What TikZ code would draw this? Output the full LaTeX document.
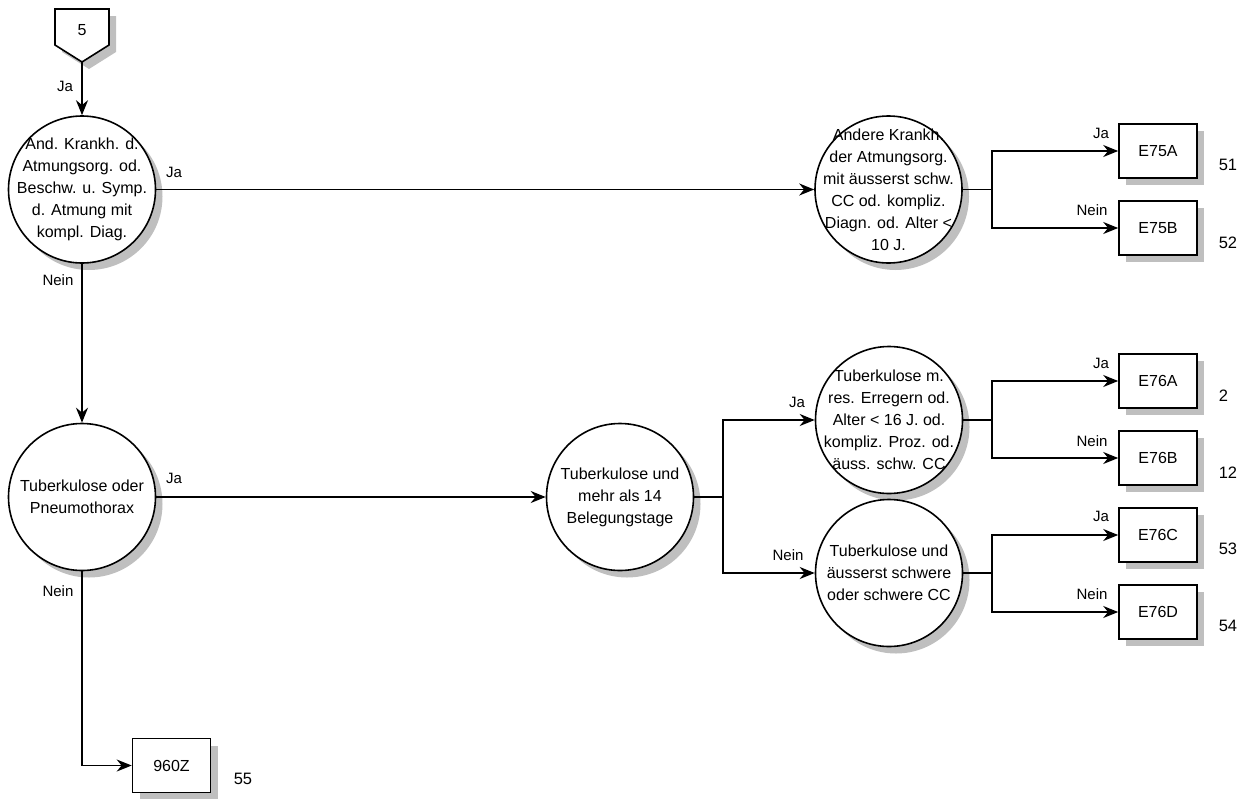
\documentclass[tikz,border=0pt]{standalone}
\usepackage{fontspec}
\setmainfont{Liberation Sans}
\usetikzlibrary{arrows.meta,shadows}
\begin{document}
\begin{tikzpicture}[x=1pt,y=-1pt,
  line width=1.6pt,
  shd/.style={drop shadow={shadow xshift=7pt,shadow yshift=-7pt,fill=black!25,opacity=1}},
  dec/.style={circle,draw,fill=white,minimum size=147pt,inner sep=0pt,shd},
  dtext/.style={align=center,font=\fontsize{16}{22}\selectfont,inner sep=0pt},
  leaf/.style={rectangle,draw,fill=white,minimum width=78pt,minimum height=54pt,inner sep=0pt,shd,font=\fontsize{16}{18}\selectfont},
  lbl/.style={font=\fontsize{15}{16}\selectfont,inner sep=0pt},
  num/.style={font=\fontsize{16.5}{18}\selectfont,inner sep=0pt,anchor=west},
  arr/.style={-{Stealth[length=15pt,width=12pt]}},
]
\useasboundingbox (0,0) rectangle (1252,798);

% off-page connector "5"
\fill[black!25] (62,16) -- (116,16) -- (116,52) -- (89,69) -- (62,52) -- cycle;
\draw[fill=white] (55,9) -- (109,9) -- (109,45) -- (82,62) -- (55,45) -- cycle;
\node[font=\fontsize{16}{18}\selectfont] (p5t) at (82,30) {5};
\coordinate (p5) at (82,62);

% decision circles
\node[dec] (c1) at (82,189.5) {};
\node[dtext] (c1t) at (c1) {And. Krankh. d.\\Atmungsorg. od.\\Beschw. u. Symp.\\d. Atmung mit\\kompl. Diag.};
\node[dec] (c2) at (888.5,189.5) {};
\node[dtext] (c2t) at (c2) {Andere Krankh.\\der Atmungsorg.\\mit äusserst schw.\\CC od. kompliz.\\Diagn. od. Alter <\\10 J.};
\node[dec] (c3) at (82,497) {};
\node[dtext] (c3t) at (c3) {Tuberkulose oder\\Pneumothorax};
\node[dec] (c4) at (620,497) {};
\node[dtext] (c4t) at (c4) {Tuberkulose und\\mehr als 14\\Belegungstage};
\node[dec] (c5) at (889,420) {};
\node[dtext] (c5t) at (c5) {Tuberkulose m.\\res. Erregern od.\\Alter < 16 J. od.\\kompliz. Proz. od.\\äuss. schw. CC};
\node[dec] (c6) at (889,573) {};
\node[dtext] (c6t) at (c6) {Tuberkulose und\\äusserst schwere\\oder schwere CC};

% leaves
\node[leaf] (e75a) at (1158,151) {E75A};
\node[leaf] (e75b) at (1158,228) {E75B};
\node[leaf] (e76a) at (1158,381) {E76A};
\node[leaf] (e76b) at (1158,458) {E76B};
\node[leaf] (e76c) at (1158,535) {E76C};
\node[leaf] (e76d) at (1158,612) {E76D};
\node[leaf] (z960) at (171.5,765.5) {960Z};

% numbers
\node[num] (n51) at (1218,165) {51};
\node[num] (n52) at (1218,243) {52};
\node[num] (n2)  at (1218,396) {2};
\node[num] (n12) at (1218,473) {12};
\node[num] (n53) at (1218,549) {53};
\node[num] (n54) at (1218,626) {54};
\node[num] (n55) at (233,779) {55};

% fork points
\coordinate (f2) at (992,189.5);
\coordinate (f4) at (723,497);
\coordinate (f5) at (992,420);
\coordinate (f6) at (992,573);

% connectors
\draw[arr] (p5) -- (c1.north);
\draw[arr] (c1.east) -- (c2.west);
\draw[arr] (c1.south) -- (c3.north);
\draw[arr] (c3.east) -- (c4.west);
\draw[arr] (c3.south) |- (z960.west);
\draw (c2.east) -- (f2);
\draw[arr] (f2) |- (e75a.west);
\draw[arr] (f2) |- (e75b.west);
\draw (c4.east) -- (f4);
\draw[arr] (f4) |- (c5.west);
\draw[arr] (f4) |- (c6.west);
\draw (c5.east) -- (f5);
\draw[arr] (f5) |- (e76a.west);
\draw[arr] (f5) |- (e76b.west);
\draw (c6.east) -- (f6);
\draw[arr] (f6) |- (e76c.west);
\draw[arr] (f6) |- (e76d.west);

% connector labels
\node[lbl] (l1) at (65,86) {Ja};
\node[lbl] (l2) at (174,172) {Ja};
\node[lbl] (l3) at (58,280) {Nein};
\node[lbl] (l4) at (174,478) {Ja};
\node[lbl] (l5) at (58,591) {Nein};
\node[lbl] (l6) at (1101,133) {Ja};
\node[lbl] (l7) at (1092,210) {Nein};
\node[lbl] (l8) at (797,402) {Ja};
\node[lbl] (l9) at (788,555) {Nein};
\node[lbl] (l10) at (1101,363) {Ja};
\node[lbl] (l11) at (1092,441) {Nein};
\node[lbl] (l12) at (1101,516) {Ja};
\node[lbl] (l13) at (1092,594) {Nein};
\end{tikzpicture}
\end{document}
